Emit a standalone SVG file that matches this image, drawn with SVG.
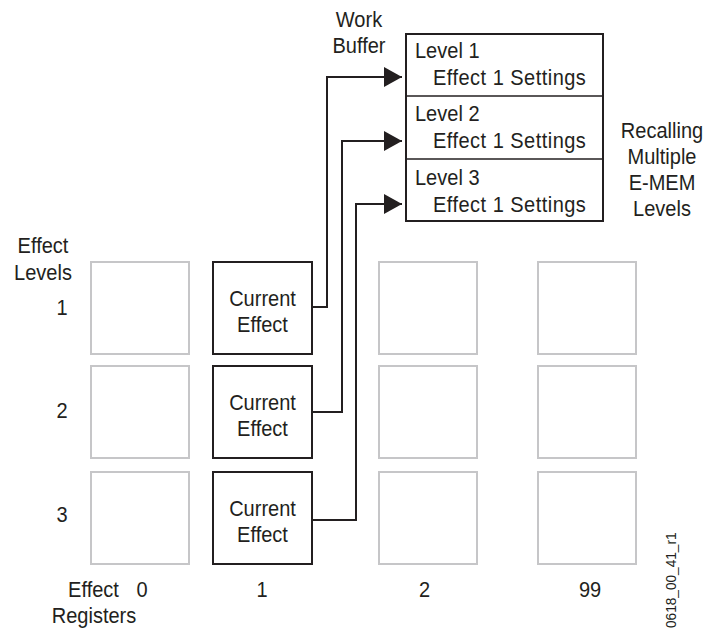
<svg xmlns="http://www.w3.org/2000/svg" width="708" height="632" viewBox="0 0 708 632">
<style>
  text { font-family: "Liberation Sans", Arial, sans-serif; font-size: 22px; fill: #231f20; }
  .c { text-anchor: middle; }
  .reg { fill: #ffffff; stroke: #c6c6c8; stroke-width: 2; }
  .cur { fill: #ffffff; stroke: #231f20; stroke-width: 2; }
  .wire { fill: none; stroke: #231f20; stroke-width: 2; marker-end: url(#arrow); }
  .div { stroke: #231f20; stroke-width: 1.5; }
</style>
<defs>
  <marker id="arrow" viewBox="0 0 18 20" refX="18" refY="10" markerWidth="18" markerHeight="20" markerUnits="userSpaceOnUse" orient="auto">
    <path d="M0,0 L18,10 L0,20 z" fill="#231f20"/>
  </marker>
</defs>
<rect width="708" height="632" fill="#ffffff"/>

<g id="labels">
  <text class="c" transform="translate(359,27) scale(0.91,1)">Work</text>
  <text class="c" transform="translate(359,53) scale(0.91,1)">Buffer</text>
  <text class="c" transform="translate(662,138) scale(0.91,1)">Recalling</text>
  <text class="c" transform="translate(662,164) scale(0.91,1)">Multiple</text>
  <text class="c" transform="translate(662,190) scale(0.91,1)">E-MEM</text>
  <text class="c" transform="translate(662,216) scale(0.91,1)">Levels</text>
  <text class="c" transform="translate(43,253) scale(0.91,1)">Effect</text>
  <text class="c" transform="translate(43,280) scale(0.91,1)">Levels</text>
  <text class="c" transform="translate(62,315) scale(0.91,1)">1</text>
  <text class="c" transform="translate(62,418) scale(0.91,1)">2</text>
  <text class="c" transform="translate(62,522) scale(0.91,1)">3</text>
  <text class="c" transform="translate(93.5,597) scale(0.91,1)">Effect</text>
  <text class="c" transform="translate(94,623) scale(0.91,1)">Registers</text>
  <text class="c" transform="translate(142,597) scale(0.91,1)">0</text>
  <text class="c" transform="translate(262,597) scale(0.91,1)">1</text>
  <text class="c" transform="translate(424.5,597) scale(0.91,1)">2</text>
  <text class="c" transform="translate(590,597) scale(0.91,1)">99</text>
  <text transform="translate(675.5,628) rotate(-90) scale(0.91,1)" style="font-size:15px">0618_00_41_r1</text>
</g>

<g id="work-buffer">
  <rect class="cur" x="406" y="34" width="197" height="187"/>
  <line class="div" x1="406" y1="96" x2="603" y2="96"/>
  <line class="div" x1="406" y1="159" x2="603" y2="159"/>
  <text transform="translate(415,58) scale(0.91,1)">Level 1</text>
  <text transform="translate(433,85) scale(0.91,1)" textLength="168" lengthAdjust="spacing">Effect 1 Settings</text>
  <text transform="translate(415,121) scale(0.91,1)">Level 2</text>
  <text transform="translate(433,148) scale(0.91,1)" textLength="168" lengthAdjust="spacing">Effect 1 Settings</text>
  <text transform="translate(415,185) scale(0.91,1)">Level 3</text>
  <text transform="translate(433,212) scale(0.91,1)" textLength="168" lengthAdjust="spacing">Effect 1 Settings</text>
</g>

<g id="reg0-l1"><rect class="reg" x="91" y="262" width="98" height="92"/></g>
<g id="reg0-l2"><rect class="reg" x="91" y="366" width="98" height="92"/></g>
<g id="reg0-l3"><rect class="reg" x="91" y="472" width="98" height="92"/></g>

<g id="cur-l1">
  <rect class="cur" x="213" y="262" width="99" height="92"/>
  <text class="c" transform="translate(262.5,306) scale(0.91,1)">Current</text>
  <text class="c" transform="translate(262.5,332) scale(0.91,1)">Effect</text>
</g>
<g id="cur-l2">
  <rect class="cur" x="213" y="366" width="99" height="92"/>
  <text class="c" transform="translate(262.5,410) scale(0.91,1)">Current</text>
  <text class="c" transform="translate(262.5,436) scale(0.91,1)">Effect</text>
</g>
<g id="cur-l3">
  <rect class="cur" x="213" y="472" width="99" height="92"/>
  <text class="c" transform="translate(262.5,516) scale(0.91,1)">Current</text>
  <text class="c" transform="translate(262.5,542) scale(0.91,1)">Effect</text>
</g>

<g id="reg2-l1"><rect class="reg" x="379" y="262" width="98" height="92"/></g>
<g id="reg2-l2"><rect class="reg" x="379" y="366" width="98" height="92"/></g>
<g id="reg2-l3"><rect class="reg" x="379" y="472" width="98" height="92"/></g>

<g id="reg99-l1"><rect class="reg" x="538" y="262" width="98" height="92"/></g>
<g id="reg99-l2"><rect class="reg" x="538" y="366" width="98" height="92"/></g>
<g id="reg99-l3"><rect class="reg" x="538" y="472" width="98" height="92"/></g>

<g id="connectors">
  <path class="wire" d="M312,307 H327 V77 H402"/>
  <path class="wire" d="M312,412 H342 V141 H402"/>
  <path class="wire" d="M312,520 H356 V204 H402"/>
</g>
</svg>
